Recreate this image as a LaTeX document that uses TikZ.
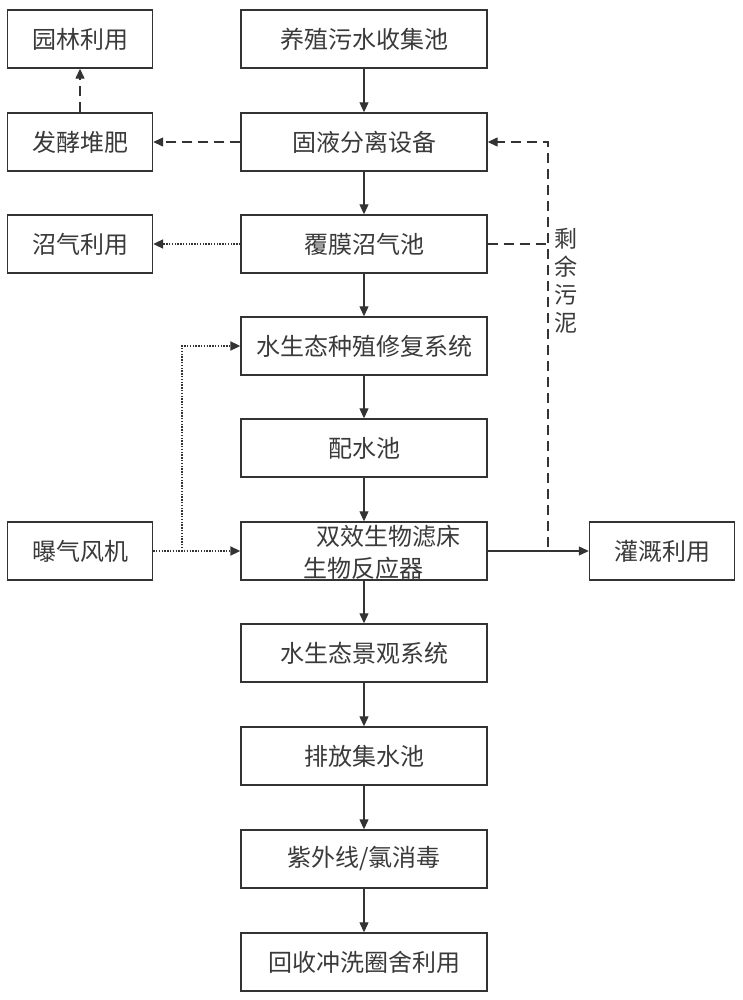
\documentclass[tikz,border=0pt]{standalone}
\usepackage{fontspec}
\newfontfamily\cjk{Noto Sans CJK SC}
\usetikzlibrary{arrows.meta}
\definecolor{ln}{HTML}{333333}
\definecolor{tx}{HTML}{3A3A3A}
\tikzset{
  box/.style={draw=ln, line width=1.4pt, minimum height=58pt, inner sep=0pt,
    font=\cjk\fontsize{24}{28}\selectfont, text=tx},
  mainbox/.style={box, minimum width=246pt},
  sidebox/.style={box, minimum width=145pt},
  flow/.style={draw=ln, line width=1.1pt, -{Triangle[length=10pt,width=9pt]}},
  dflow/.style={draw=ln, line width=1.3pt, dash pattern=on 10pt off 6pt},
  pflow/.style={draw=ln, line width=2pt, dash pattern=on 1.4pt off 1.4pt},
  tip/.style={-{Triangle[length=10pt,width=9pt]}},
  lbl/.style={font=\cjk\fontsize{24}{28}\selectfont, text=tx, inner sep=0pt}
}
\begin{document}
\begin{tikzpicture}[x=1pt,y=-1pt]
\useasboundingbox[fill=white] (0,0) rectangle (742,1000);
% main column
\node[mainbox] (m1) at (364,39) {养殖污水收集池};
\node[mainbox] (m2) at (364,142) {固液分离设备};
\node[mainbox] (m3) at (364,244) {覆膜沼气池};
\node[mainbox] (m4) at (364,346) {水生态种殖修复系统};
\node[mainbox] (m5) at (364,448) {配水池};
\node[mainbox] (m6) at (364,551) {};
\node[lbl] (m6a) at (388,536) {双效生物滤床};
\node[lbl] (m6b) at (363,568) {生物反应器};
\node[mainbox] (m7) at (364,653) {水生态景观系统};
\node[mainbox] (m8) at (364,756) {排放集水池};
\node[mainbox] (m9) at (364,859) {紫外线/氯消毒};
\node[mainbox] (m10) at (364,962) {回收冲洗圈舍利用};
% side boxes
\node[sidebox] (yl) at (80,39) {园林利用};
\node[sidebox] (fj) at (80,142) {发酵堆肥};
\node[sidebox] (zq) at (80,244) {沼气利用};
\node[sidebox] (bq) at (80,551) {曝气风机};
\node[sidebox] (gg) at (662,551) {灌溉利用};
% main flow
\draw[flow] (m1) -- (m2);
\draw[flow] (m2) -- (m3);
\draw[flow] (m3) -- (m4);
\draw[flow] (m4) -- (m5);
\draw[flow] (m5) -- (m6);
\draw[flow] (m6) -- (m7);
\draw[flow] (m7) -- (m8);
\draw[flow] (m8) -- (m9);
\draw[flow] (m9) -- (m10);
\draw[flow] (m6) -- (gg);
% dashed
\draw[dflow,tip] (m2) -- (fj);
\draw[dflow,tip] (fj) -- (yl);
\coordinate (c1) at (548,551);
\coordinate (c2) at (548,142);
\coordinate (c3) at (548,244);
\draw[dflow,tip] (m6.east) -- (c1) -- (c2) -- (m2.east);
\draw[dflow] (m3.east) -- (c3);
\node[lbl, align=center, font=\cjk\fontsize{23}{28}\selectfont] (sl) at (566,281) {剩\\余\\污\\泥};
% dotted
\draw[pflow,tip] (m3) -- (zq);
\coordinate (d1) at (182,551);
\draw[pflow,tip] (bq) -- (m6);
\draw[pflow,tip] (d1) |- (m4.west);
\end{tikzpicture}
\end{document}
